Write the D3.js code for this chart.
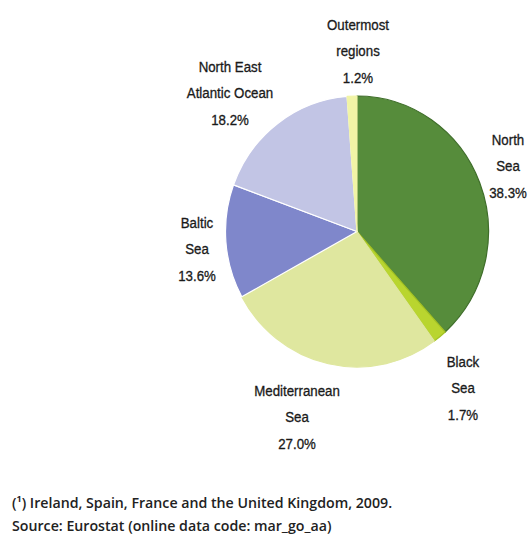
<!DOCTYPE html>
<html>
<head>
<meta charset="utf-8">
<script src="https://cdn.jsdelivr.net/npm/d3@7"></script>
<style>
  html, body { margin: 0; padding: 0; background: #ffffff; }
  svg { display: block; }
</style>
</head>
<body>
<svg id="chart" width="528" height="547"></svg>
<script>
// Fishing areas: share of catches, clockwise from 12 o'clock
const areas = ["North Sea", "Black Sea", "Mediterranean Sea", "Baltic Sea", "North East Atlantic Ocean", "Outermost regions"];
const shares = [38.3, 1.7, 27.0, 13.6, 18.2, 1.2];
const labelLines = [
  ["North", "Sea"],
  ["Black", "Sea"],
  ["Mediterranean", "Sea"],
  ["Baltic", "Sea"],
  ["North East", "Atlantic Ocean"],
  ["Outermost", "regions"]
];
const fills = ["#568c3b", "#b9d52f", "#dfe79f", "#7f87cb", "#c2c5e5", "#f1f4a6"];
const strokes = ["#3f6e2a", "#a3c224", "#dfe79f", "#ffffff", "#ffffff", "#f1f4a6"];
const footnotes = [
  "(\u00b9) Ireland, Spain, France and the United Kingdom, 2009.",
  "Source: Eurostat (online data code: mar_go_aa)"
];

const svg = d3.select("#chart");
const cx = 357, cy = 231.5, radius = 131.5, yStretch = 135.5 / 131.5;

const pie = d3.pie().sort(null).value(d => d)(shares);
const arc = d3.arc().innerRadius(0).outerRadius(radius);

const g = svg.append("g").attr("transform", `translate(${cx},${cy}) scale(1,${yStretch})`);
g.selectAll("path")
  .data(pie)
  .join("path")
  .attr("d", arc)
  .attr("fill", (d, i) => fills[i])
  .attr("stroke", (d, i) => strokes[i])
  .attr("stroke-width", 1.2)
  .attr("stroke-linejoin", "round");

// Offsets of each label block (first line centre) from the pie centre
const labelPos = [
  [151, -92], [106, 130], [-60, 159], [-160, -9], [-127, -165], [1, -207]
];
const fmt = d3.format(".1f");
const lineGap = 26.5;

const labels = svg.append("g")
  .attr("font-family", "'Liberation Sans', Arial, sans-serif")
  .attr("font-size", 14)
  .attr("fill", "#1a1a1a")
  .attr("stroke", "#1a1a1a")
  .attr("stroke-width", 0.3)
  .attr("text-anchor", "middle");

areas.forEach((name, i) => {
  const lines = labelLines[i].concat([fmt(shares[i]) + "%"]);
  const [ox, oy] = labelPos[i];
  const t = labels.append("text")
    .attr("transform", `translate(${cx + ox},${cy + oy}) scale(0.95,1.08)`);
  lines.forEach((ln, k) => {
    t.append("tspan")
      .attr("x", 0)
      .attr("y", k * lineGap / 1.08)
      .attr("dy", "0.35em")
      .text(ln);
  });
});

svg.append("g")
  .attr("font-family", "'Open Sans', 'Noto Sans', sans-serif")
  .attr("font-size", 14.2)
  .attr("font-weight", 600)
  .attr("fill", "#222")
  .selectAll("text")
  .data(footnotes)
  .join("text")
  .attr("x", 12)
  .attr("y", (d, i) => 508 + i * 23)
  .text(d => d);
</script>
</body>
</html>
